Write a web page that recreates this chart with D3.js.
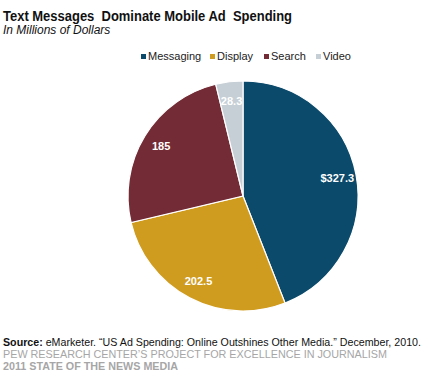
<!DOCTYPE html>
<html><head><meta charset="utf-8">
<script src="https://cdn.jsdelivr.net/npm/d3@7"></script>
<style>body{margin:0;background:#fff;} text{font-family:"Liberation Sans",Arial,sans-serif;}</style>
</head><body>
<svg id="c" width="428" height="379"></svg>
<script>
const categories = ["Messaging","Display","Search","Video"];
const values = [327.3, 202.5, 185, 28.3];
const labels = ["$327.3","202.5","185","28.3"];
const colors = ["#0b4a6b","#d09c1f","#732c36","#c6cfd6"];

const svg = d3.select("#c");
svg.append("text").attr("x",3).attr("y",21).attr("font-size",14).attr("font-weight","bold")
  .attr("fill","#111").style("white-space","pre")
  .attr("textLength",289).attr("lengthAdjust","spacingAndGlyphs")
  .text("Text Messages  Dominate Mobile Ad  Spending");
svg.append("text").attr("x",3).attr("y",34).attr("font-size",12).attr("font-style","italic")
  .attr("fill","#111").text("In Millions of Dollars");

// legend
const legX = [141,210,264,316];
const lg = svg.append("g");
categories.forEach((c,i)=>{
  lg.append("rect").attr("x",legX[i]).attr("y",54).attr("width",5).attr("height",5).attr("fill",colors[i]);
  lg.append("text").attr("x",legX[i]+7).attr("y",60).attr("font-size",11).attr("fill","#222").text(c);
});

const cx=243, cy=196, r=115;
const pie = d3.pie().sort(null).value(d=>d)(values);
const arc = d3.arc().innerRadius(0).outerRadius(r);
const lab = d3.arc().innerRadius(96).outerRadius(96);
const g = svg.append("g").attr("transform",`translate(${cx},${cy})`);
g.selectAll("path").data(pie).join("path").attr("d",arc)
  .attr("fill",(d,i)=>colors[i]).attr("stroke","#fff").attr("stroke-width",1.2);
g.selectAll("text.l").data(pie).join("text").attr("class","l")
  .attr("transform",d=>`translate(${lab.centroid(d)})`)
  .attr("text-anchor","middle").attr("dy","0.35em")
  .attr("font-size",11).attr("font-weight","bold").attr("fill","#fff")
  .text((d,i)=>labels[i]);

const s = svg.append("text").attr("x",3).attr("y",346).attr("font-size",10.4).attr("fill","#111")
  .attr("textLength",418).attr("lengthAdjust","spacingAndGlyphs");
s.append("tspan").attr("font-weight","bold").text("Source:");
s.append("tspan").text(" eMarketer. \u201cUS Ad Spending: Online Outshines Other Media.\u201d December, 2010.");
svg.append("text").attr("x",3).attr("y",358).attr("font-size",11).attr("fill","#a6a6a6")
  .attr("textLength",384).attr("lengthAdjust","spacingAndGlyphs")
  .text("PEW RESEARCH CENTER\u2019S PROJECT FOR EXCELLENCE IN JOURNALISM");
svg.append("text").attr("x",3).attr("y",370).attr("font-size",11).attr("font-weight","bold").attr("fill","#a6a6a6")
  .attr("textLength",175).attr("lengthAdjust","spacingAndGlyphs")
  .text("2011 STATE OF THE NEWS MEDIA");
</script>
</body></html>
